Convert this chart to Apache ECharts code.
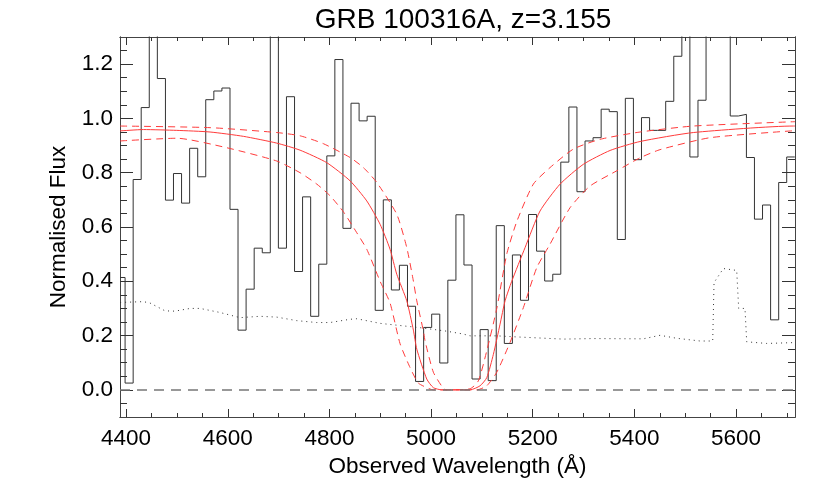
<!DOCTYPE html>
<html>
<head>
<meta charset="utf-8">
<title>GRB 100316A</title>
<script src="https://cdn.jsdelivr.net/npm/echarts@6/dist/echarts.min.js"></script>
<style>
  html, body { margin: 0; padding: 0; background: #fff; }
  #chart { width: 830px; height: 493px; }
</style>
</head>
<body>
<div id="chart"></div>
<script>
// lower edge of each spectrum bin (Angstrom), first one is the partial bin at the left frame
const binEdges = [4388.0, 4398.0, 4413.9, 4429.7, 4445.6, 4461.5, 4477.4, 4493.2, 4509.1, 4525.0,
  4540.9, 4556.7, 4572.6, 4588.5, 4604.4, 4620.2, 4636.1, 4652.0, 4667.9, 4683.7,
  4699.6, 4715.5, 4731.4, 4747.2, 4763.1, 4779.0, 4794.9, 4810.7, 4826.6, 4842.5,
  4858.4, 4874.2, 4890.1, 4906.0, 4921.9, 4937.7, 4953.6, 4969.5, 4985.4, 5001.2,
  5017.1, 5033.0, 5048.9, 5064.7, 5080.6, 5096.5, 5112.4, 5128.2, 5144.1, 5160.0,
  5175.9, 5191.7, 5207.6, 5223.5, 5239.4, 5255.2, 5271.1, 5287.0, 5302.9, 5318.7,
  5334.6, 5350.5, 5366.4, 5382.2, 5398.1, 5414.0, 5429.9, 5445.7, 5461.6, 5477.5,
  5493.4, 5509.2, 5525.1, 5541.0, 5556.9, 5572.7, 5588.6, 5604.5, 5620.4, 5636.2,
  5652.1, 5668.0, 5683.9, 5699.7];
const lastEdge = 5715.6;
// normalised flux in each bin (values above 1.3 run off the top of the plot)
const flux = [0.414, 0.025, 0.775, 1.04, 1.45, 1.147, 0.699, 0.797, 0.688, 0.890,
  0.785, 1.069, 1.101, 1.112, 0.665, 0.22, 0.371, 0.522, 0.505, 1.45,
  0.522, 1.08, 0.436, 0.711, 0.271, 0.463, 0.862, 1.217, 0.595, 1.056,
  0.991, 1.008, 0.293, 0.70, 0.368, 0.459, 0.308, 0.031, 0.23, 0.279,
  0.099, 0.404, 0.645, 0.46, 0.04, 0.222, 0.034, 0.605, 0.171, 0.497,
  0.33, 0.646, 0.511, 0.401, 0.426, 0.839, 1.042, 0.730, 0.917, 0.929,
  1.034, 1.025, 0.554, 1.074, 0.848, 1.003, 0.956, 0.956, 1.063, 1.229,
  1.45, 0.858, 1.067, 1.45, 1.45, 1.45, 1.009, 1.015, 0.856, 0.629,
  0.681, 0.258, 0.764, 0.858];

// error spectrum (dotted)
const errWave = [4388.2, 4434, 4447, 4476.7, 4496, 4526, 4545.6, 4585, 4624, 4663.6,
  4696.5, 4735.8, 4775, 4801, 4840.7, 4853.8, 4899.7, 4978.4, 5027.6, 5062.5,
  5076.7, 5129.2, 5168.6, 5260.3, 5319.3, 5417.7, 5450.5, 5483.3, 5529.2, 5554.1,
  5556.7, 5575, 5601.3, 5605.2, 5617.6, 5621, 5660.3, 5712.7];
const errFlux = [0.322, 0.325, 0.32, 0.291, 0.29, 0.30, 0.30, 0.285, 0.266, 0.271,
  0.268, 0.255, 0.248, 0.248, 0.26, 0.262, 0.245, 0.229, 0.217, 0.206,
  0.199, 0.199, 0.195, 0.187, 0.189, 0.188, 0.201, 0.19, 0.18, 0.18,
  0.395, 0.447, 0.44, 0.30, 0.30, 0.177, 0.171, 0.174];

// best-fit DLA model (solid red)
const fitWave = [4388.2, 4434.0, 4499.7, 4565.2, 4630.8, 4696.5, 4742.3, 4794.8, 4840.7, 4873.5,
  4899.7, 4919.3, 4932.5, 4952.2, 4965.2, 4971.9, 4991.5, 5004.5, 5021.1, 5076.7,
  5096.4, 5109.6, 5122.6, 5135.7, 5145.6, 5158.7, 5184.9, 5214.4, 5253.8, 5299.6,
  5352.2, 5411.2, 5516.0, 5712.7, 5716];
const fitFlux = [0.954, 0.959, 0.956, 0.950, 0.934, 0.909, 0.883, 0.837, 0.770, 0.696,
  0.610, 0.518, 0.426, 0.328, 0.220, 0.150, 0.040, 0.008, 0.0, 0.0,
  0.015, 0.045, 0.131, 0.242, 0.328, 0.400, 0.524, 0.659, 0.758, 0.831,
  0.882, 0.915, 0.948, 0.972, 0.972];

// lower column density bound (upper dashed)
const loWave = [4388.2, 4565.2, 4696.5, 4742.3, 4788.1, 4840.7, 4866.8, 4893.2, 4932.5, 4952.2,
  4965.2, 4971.9, 4984.9, 4988.2, 5004.5, 5024.2, 5029.5, 5076.7, 5093.0, 5109.6,
  5129.3, 5148.9, 5168.6, 5201.2, 5234.1, 5279.9, 5332.5, 5411.2, 5516.0, 5716];
const loFlux = [0.972, 0.966, 0.948, 0.936, 0.907, 0.856, 0.819, 0.764, 0.647, 0.524,
  0.401, 0.328, 0.217, 0.18, 0.065, 0.005, 0.0, 0.004, 0.033, 0.144,
  0.30, 0.50, 0.62, 0.758, 0.819, 0.887, 0.923, 0.950, 0.972, 0.988];

// upper column density bound (lower dashed)
const hiWave = [4388.2, 4499.7, 4598.1, 4696.5, 4742.3, 4775.2, 4801.3, 4827.5, 4853.8, 4873.5,
  4899.7, 4919.3, 4939.0, 4958.7, 4975.0, 4998.0, 5004.5, 5089.9, 5109.6, 5129.3,
  5155.4, 5181.6, 5207.9, 5234.1, 5273.4, 5312.8, 5365.3, 5411.2, 5450.5, 5548.8, 5716];
const hiFlux = [0.917, 0.927, 0.892, 0.843, 0.800, 0.758, 0.715, 0.656, 0.579, 0.518,
  0.40, 0.32, 0.17, 0.082, 0.025, 0.003, 0.0, 0.0, 0.015, 0.065,
  0.175, 0.303, 0.45, 0.537, 0.671, 0.751, 0.807, 0.855, 0.885, 0.929, 0.955];

// ticks
const xMajor = [4400, 4600, 4800, 5000, 5200, 5400, 5600];
const xMinor = [4450, 4500, 4550, 4650, 4700, 4750, 4850, 4900, 4950, 5050, 5100, 5150,
  5250, 5300, 5350, 5450, 5500, 5550, 5650, 5700];
const yMajor = [0, 0.2, 0.4, 0.6, 0.8, 1.0, 1.2];
const yMinor = [-0.05, 0.05, 0.1, 0.15, 0.25, 0.3, 0.35, 0.45, 0.5, 0.55, 0.65, 0.7, 0.75,
  0.85, 0.9, 0.95, 1.05, 1.1, 1.15, 1.25];

const FONT = '"Liberation Sans", Arial, sans-serif';
const xMin = 4388, xMax = 5716, yMin = -0.1, yMax = 1.3;

function pairs(xs, ys) {
  return xs.map((x, i) => [x, ys[i]]);
}
let histData = pairs(binEdges, flux);
histData.push([lastEdge, flux[flux.length - 1]]);

function xAx(pos, ticks, len, withLabel) {
  return {
    type: 'value', position: pos, min: xMin, max: xMax,
    axisLine: { show: true, onZero: false, lineStyle: { color: '#444', width: 1 } },
    axisTick: { show: true, inside: true, length: len, customValues: ticks, lineStyle: { color: '#333' } },
    axisLabel: withLabel ? {
      show: true, customValues: xMajor, margin: 10, color: '#000',
      fontSize: 22.5, fontFamily: FONT,
      formatter: v => String(v)
    } : { show: false },
    splitLine: { show: false }
  };
}
function yAx(pos, ticks, len, withLabel) {
  return {
    type: 'value', position: pos, min: yMin, max: yMax,
    axisLine: { show: true, onZero: false, lineStyle: { color: '#444', width: 1 } },
    axisTick: { show: true, inside: true, length: len, customValues: ticks, lineStyle: { color: '#333' } },
    axisLabel: withLabel ? {
      show: true, customValues: yMajor, margin: 7, color: '#000',
      fontSize: 22.5, fontFamily: FONT,
      formatter: v => v.toFixed(1)
    } : { show: false },
    splitLine: { show: false }
  };
}

let xAxes = [xAx('bottom', xMajor, 8, true), xAx('bottom', xMinor, 4, false),
  xAx('top', xMajor, 8, false), xAx('top', xMinor, 4, false)];
xAxes[0].name = 'Observed Wavelength (Å)';
xAxes[0].nameLocation = 'middle';
xAxes[0].nameGap = 37;
xAxes[0].nameTextStyle = { fontSize: 22.5, fontFamily: FONT, color: '#000' };

let yAxes = [yAx('left', yMajor, 13, true), yAx('left', yMinor, 7, false),
  yAx('right', yMajor, 13, false), yAx('right', yMinor, 7, false)];
yAxes[0].name = 'Normalised Flux';
yAxes[0].nameLocation = 'middle';
yAxes[0].nameGap = 50;
yAxes[0].nameTextStyle = { fontSize: 22.5, fontFamily: FONT, color: '#000' };

const chart = echarts.init(document.getElementById('chart'), null, { renderer: 'canvas' });
chart.setOption({
  animation: false,
  backgroundColor: '#fff',
  title: {
    text: 'GRB 100316A, z=3.155',
    left: 458, top: 1, textAlign: 'center',
    textStyle: { fontSize: 28, fontWeight: 'normal', fontFamily: FONT, color: '#000' }
  },
  grid: { left: 120, right: 35, top: 37, bottom: 76, containLabel: false },
  xAxis: xAxes,
  yAxis: yAxes,
  series: [
    {
      name: 'flux', type: 'line', step: 'end', data: histData,
      symbol: 'none', clip: true,
      lineStyle: { color: '#333', width: 1 },
      markLine: {
        silent: true, symbol: 'none', label: { show: false },
        lineStyle: { color: '#777', type: [10, 7], width: 1.5 },
        data: [{ yAxis: 0 }]
      }
    },
    {
      name: 'error', type: 'line', data: pairs(errWave, errFlux),
      symbol: 'none', clip: true,
      lineStyle: { color: '#333', width: 1, type: [1, 4] }
    },
    {
      name: 'fit', type: 'line', data: pairs(fitWave, fitFlux),
      symbol: 'none', clip: true, smooth: 0.2,
      lineStyle: { color: '#ff3b3b', width: 1 }
    },
    {
      name: 'fitLow', type: 'line', data: pairs(loWave, loFlux),
      symbol: 'none', clip: true, smooth: 0.2,
      lineStyle: { color: '#ff3b3b', width: 1, type: [7, 5] }
    },
    {
      name: 'fitHigh', type: 'line', data: pairs(hiWave, hiFlux),
      symbol: 'none', clip: true, smooth: 0.2,
      lineStyle: { color: '#ff3b3b', width: 1, type: [7, 5] }
    }
  ]
});
</script>
</body>
</html>
